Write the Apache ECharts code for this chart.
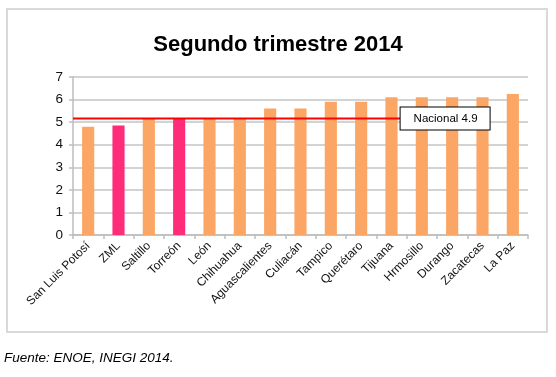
<!DOCTYPE html>
<html>
<head>
<meta charset="utf-8">
<script src="https://cdn.jsdelivr.net/npm/echarts@6/dist/echarts.min.js"></script>
<style>
  html, body { margin: 0; padding: 0; background: #fff; }
  #chart { width: 556px; height: 377px; }
</style>
</head>
<body>
<div id="chart"></div>
<script>
const cities = ["San Luis Potosí", "ZML", "Saltillo", "Torreón", "León", "Chihuahua",
  "Aguascalientes", "Culiacán", "Tampico", "Querétaro", "Tijuana", "Hrmosillo",
  "Durango", "Zacatecas", "La Paz"];
const values = [4.8, 4.85, 5.15, 5.15, 5.15, 5.15, 5.6, 5.6, 5.9, 5.9, 6.1, 6.1, 6.1, 6.1, 6.25];
const highlighted = ["ZML", "Torreón"];
const nacionalLabel = "Nacional 4.9";
const nacionalLevel = 5.16;
const nacionalEnd = 10.8; // category position where the label box starts

const orange = "#FBA664";
const pink = "#FF2C79";

const chart = echarts.init(document.getElementById("chart"));

const barData = cities.map((c, i) => ({
  value: values[i],
  itemStyle: { color: highlighted.includes(c) ? pink : orange }
}));

const option = {
  animation: false,
  title: {
    text: "Segundo trimestre 2014",
    left: "center",
    top: 29,
    textStyle: { fontFamily: "Liberation Sans", fontWeight: "bold", fontSize: 22, color: "#000" }
  },
  graphic: [
    {
      type: "rect",
      shape: { x: 7, y: 9, width: 540, height: 323 },
      style: { fill: "none", stroke: "#d9d9d9", lineWidth: 2 },
      silent: true
    },
    {
      type: "text",
      left: 4,
      top: 351,
      style: { text: "Fuente: ENOE, INEGI 2014.", font: "italic 13.5px 'Liberation Sans'", fill: "#000" }
    }
  ],
  grid: { left: 73, right: 28, top: 77, bottom: 142 },
  xAxis: [
    {
      type: "category",
      data: cities,
      axisLine: { lineStyle: { color: "#bdbdbd", width: 1.5 } },
      axisTick: { show: true, length: 4, lineStyle: { color: "#bdbdbd", width: 1.5 } },
      axisLabel: {
        rotate: 45, interval: 0, margin: 9,
        fontFamily: "Liberation Sans", fontSize: 12, color: "#111"
      }
    },
    {
      type: "value",
      min: 0, max: cities.length,
      show: false
    }
  ],
  yAxis: {
    type: "value",
    min: 0, max: 7, interval: 1,
    axisLine: { show: true, lineStyle: { color: "#bdbdbd", width: 1.5 } },
    axisTick: { show: true, length: 4, lineStyle: { color: "#bdbdbd", width: 1.5 } },
    axisLabel: { fontFamily: "Liberation Sans", fontSize: 13.5, color: "#111", margin: 10 },
    splitLine: { lineStyle: { color: "#c4c4c4", width: 1.5 } }
  },
  series: [
    {
      type: "bar",
      data: barData,
      barWidth: "40%"
    },
    {
      type: "line",
      xAxisIndex: 1,
      data: [[0, nacionalLevel], [nacionalEnd, nacionalLevel]],
      showSymbol: false,
      lineStyle: { color: "#FF0000", width: 2 },
      z: 5,
      endLabel: {
        show: true,
        formatter: nacionalLabel,
        distance: 0,
        width: 63,
        padding: [5, 13, 5, 13],
        backgroundColor: "#fff",
        borderColor: "#000",
        borderWidth: 1,
        fontFamily: "Liberation Sans",
        fontSize: 11.5,
        color: "#000"
      }
    }
  ]
};

chart.setOption(option);
</script>
</body>
</html>
